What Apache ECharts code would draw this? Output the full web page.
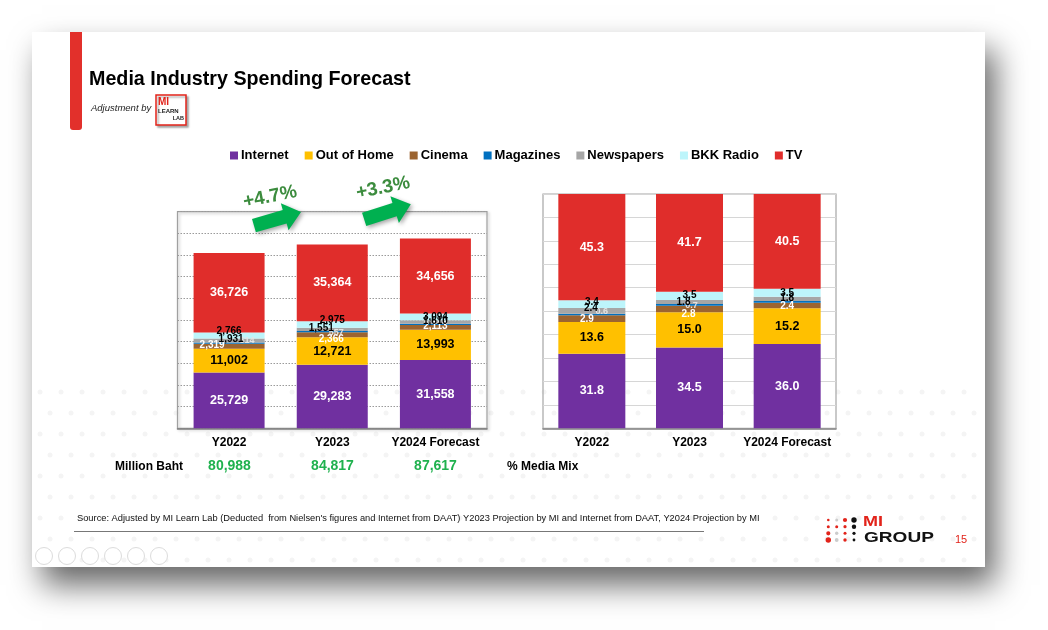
<!DOCTYPE html>
<html>
<head>
<meta charset="utf-8">
<script src="https://cdn.jsdelivr.net/npm/echarts@6/dist/echarts.min.js"></script>
<style>
html,body{margin:0;padding:0;background:#fff;}
#chart{width:1048px;height:630px;}
</style>
</head>
<body>
<div id="chart"></div>
<script>
// ---------- DATA ----------
const categories = ['Y2022', 'Y2023', 'Y2024 Forecast'];
const seriesNames = ['Internet', 'Out of Home', 'Cinema', 'Magazines', 'Newspapers', 'BKK Radio', 'TV'];

// Million Baht
const bahtInternet   = [25729, 29283, 31558];
const bahtOutOfHome  = [11002, 12721, 13993];
const bahtCinema     = [2319, 2366, 2113];
const bahtMagazines  = [514, 557, 593];
const bahtNewspapers = [1931, 1551, 1610];
const bahtRadio      = [2766, 2975, 3094];
const bahtTV         = [36726, 35364, 34656];
const totalBaht      = [80988, 84817, 87617];

// % Media Mix
const mixInternet   = [31.8, 34.5, 36.0];
const mixOutOfHome  = [13.6, 15.0, 15.2];
const mixCinema     = [2.9, 2.8, 2.4];
const mixMagazines  = [0.6, 0.7, 0.7];
const mixNewspapers = [2.4, 1.8, 1.8];
const mixRadio      = [3.4, 3.5, 3.5];
const mixTV         = [45.3, 41.7, 40.5];

const growthLabels = ['+4.7%', '+3.3%'];

const bahtValues = [bahtInternet, bahtOutOfHome, bahtCinema, bahtMagazines, bahtNewspapers, bahtRadio, bahtTV];
const mixValues  = [mixInternet, mixOutOfHome, mixCinema, mixMagazines, mixNewspapers, mixRadio, mixTV];

// ---------- STYLE ----------
const colors = ['#7030a0', '#ffc000', '#9c6430', '#0070c0', '#a6a6a6', '#bdf5fb', '#e02d2b'];
const labelColors = ['#ffffff', '#000000', '#ffffff', '#e4e4e4', '#000000', '#000000', '#ffffff'];
const labelSizes = [12.5, 12.5, 10, 9, 10, 10, 12.5];
// per-item label offsets (undefined -> centered, null -> hidden)
const offsetsLeft = [
  undefined, undefined,
  [[-17, -1], [-1, 4], [0, -1]],
  [[18, -3], [4, 1], null],
  [[2, -1], [-11, -1], [0, -1]],
  [[0, -4], [0, -4], [0, 0]],
  undefined
];
const offsetsRight = [
  undefined, undefined,
  [[-5, 1], [-1, 5], [0, 1]],
  [[10, -3], [2, 1], null],
  [[-1, -3], [-6, 0], [0, -1]],
  [[0, -2], [0, -1], [0, 0]],
  undefined
];
const FONT = "'Liberation Sans', Arial, sans-serif";

function fmtBaht(v) { return Number(v).toLocaleString('en-US'); }
function fmtMix(v) { return Number(v).toFixed(1); }

function buildSeries(values, offsets, axisIdx, stack, barWidth, fmt) {
  return values.map((arr, s) => ({
    name: seriesNames[s],
    type: 'bar',
    stack: stack,
    xAxisIndex: axisIdx,
    yAxisIndex: axisIdx,
    barWidth: barWidth,
    itemStyle: { color: colors[s] },
    label: {
      show: true,
      position: 'inside',
      color: labelColors[s],
      fontSize: labelSizes[s],
      fontWeight: 'bold',
      fontFamily: FONT,
      formatter: p => fmt(p.value)
    },
    data: arr.map((v, i) => {
      const off = offsets[s] ? offsets[s][i] : undefined;
      if (off === null) return { value: v, label: { show: false } };
      if (off) return { value: v, label: { offset: off } };
      return v;
    })
  }));
}

// ---------- GRAPHICS ----------
function arrow(cx, cy, rot) {
  return {
    type: 'polygon',
    x: cx, y: cy, rotation: rot,
    shape: { points: [[-24, -7], [8, -7], [8, -14], [25, 0], [8, 14], [8, 7], [-24, 7]] },
    style: { fill: '#00b050', shadowBlur: 4, shadowOffsetX: 2, shadowOffsetY: 2, shadowColor: 'rgba(0,0,0,0.35)' },
    z: 10
  };
}
function txt(x, y, text, font, fill, align, extra) {
  return Object.assign({
    type: 'text', x: x, y: y, z: 10,
    style: { text: text, font: font, fill: fill, align: align || 'left', verticalAlign: 'middle' }
  }, extra || {});
}

const graphics = [
  // slide
  { type: 'rect', z: -100, shape: { x: 32, y: 32, width: 953, height: 535 },
    style: { fill: '#ffffff', shadowBlur: 30, shadowOffsetX: 10, shadowOffsetY: 18, shadowColor: 'rgba(0,0,0,0.6)' } },
  // red bar
  { type: 'rect', z: 5, shape: { x: 70, y: 32, width: 12, height: 98, r: [0, 0, 3, 3] }, style: { fill: '#e2302b' } },
  txt(89, 80, 'Media Industry Spending Forecast', "bold 19.7px " + FONT, '#000'),
  txt(91, 108, 'Adjustment by', "italic 9.5px " + FONT, '#222'),
  // MI Learn Lab logo
  { type: 'rect', z: 8, shape: { x: 156, y: 95, width: 30, height: 30 },
    style: { fill: '#fff', stroke: '#e2231a', lineWidth: 1.5, shadowBlur: 2, shadowOffsetX: 2, shadowOffsetY: 2, shadowColor: 'rgba(0,0,0,0.3)' } },
  txt(158, 102, 'MI', "bold 10px " + FONT, '#e2231a'),
  txt(158, 111, 'LEARN', "bold 6px " + FONT, '#222'),
  txt(184, 118, 'LAB', "bold 5.5px " + FONT, '#222', 'right'),
  // growth arrows & text
  arrow(277, 219, 0.28),
  arrow(387, 212, 0.31),
  txt(270, 197, growthLabels[0], "bold 19px " + FONT, '#3c8c3e', 'center', { rotation: 0.2 }),
  txt(383, 188, growthLabels[1], "bold 19px " + FONT, '#3c8c3e', 'center', { rotation: 0.2 }),
  // bottom row
  txt(149, 467, 'Million Baht', "bold 12px " + FONT, '#000', 'center'),
  txt(507, 467, '% Media Mix', "bold 12px " + FONT, '#000'),
  // source
  txt(77, 518, "Source: Adjusted by MI Learn Lab (Deducted  from Nielsen's figures and Internet from DAAT) Y2023 Projection by MI and Internet from DAAT, Y2024 Projection by MI", "9.3px " + FONT, '#111'),
  { type: 'line', z: 8, shape: { x1: 74, y1: 531.5, x2: 704, y2: 531.5 }, style: { stroke: '#777', lineWidth: 1 } },
  // MI GROUP logo
  txt(863, 522, 'MI', "bold 15px " + FONT, '#e2231a', 'left', { scaleX: 1.2 }),
  txt(864, 538, 'GROUP', "bold 15px " + FONT, '#111', 'left', { scaleX: 1.27 }),
  txt(955, 540, '15', "11px " + FONT, '#e2231a')
];
// faint slide dot pattern (decoration)
for (let r = 0; r < 9; r++) {
  const y = 392 + r * 21;
  for (let c = 0; c < 46; c++) {
    const x = 40 + c * 21 + (r % 2 ? 10 : 0);
    if (x > 980 || y > 562) continue;
    graphics.push({ type: 'circle', z: -50, shape: { cx: x, cy: y, r: 2.5 }, style: { fill: '#f4f4f4' } });
  }
}
// MI group dot matrix
const dotCols = [828.3, 836.7, 845, 854];
const dotRows = [520, 526.7, 533.3, 540];
const dotCol = [
  ['#e2231a', '#cccccc', '#e2231a', '#111'],
  ['#e2231a', '#e2231a', '#e2231a', '#111'],
  ['#e2231a', '#cccccc', '#e2231a', '#111'],
  ['#e2231a', '#cccccc', '#e2231a', '#111']
];
const dotR = [[1.3, 1.5, 2.1, 2.7], [1.5, 1.5, 1.6, 2.2], [2.1, 1.7, 1.5, 1.6], [2.7, 1.9, 1.7, 1.4]];
dotRows.forEach((y, r) => dotCols.forEach((x, c) => {
  graphics.push({ type: 'circle', z: 8, shape: { cx: x, cy: y, r: dotR[r][c] }, style: { fill: dotCol[r][c] } });
}));
// presenter toolbar icons
[44, 67, 90, 113, 136, 159].forEach(x => {
  graphics.push({ type: 'circle', z: 8, shape: { cx: x, cy: 556, r: 8.5 }, style: { fill: '#fff', stroke: '#dcdcdc', lineWidth: 1 } });
});
// totals
totalBaht.forEach((v, i) => {
  graphics.push(txt([229.5, 332.5, 435.5][i], 466, fmtBaht(v), "bold 14px " + FONT, '#1fb14e', 'center'));
});

// ---------- OPTION ----------
const option = {
  animation: false,
  backgroundColor: '#ffffff',
  textStyle: { fontFamily: FONT },
  legend: {
    data: seriesNames,
    left: 225,
    top: 144,
    itemWidth: 8,
    itemHeight: 8,
    itemGap: 16,
    icon: 'rect',
    textStyle: { fontSize: 13, fontWeight: 'bold', color: '#000', fontFamily: FONT, padding: [0, 0, 0, -2] }
  },
  grid: [
    { left: 177.5, top: 211.7, width: 309.5, height: 216.6, show: true, backgroundColor: 'rgba(255,255,255,0)',
      borderColor: '#a0a0a0', borderWidth: 1.2, shadowBlur: 3, shadowOffsetX: 1.5, shadowOffsetY: 1.5, shadowColor: 'rgba(0,0,0,0.25)' },
    { left: 543, top: 194, width: 293, height: 234.3, show: true, backgroundColor: 'rgba(255,255,255,0)',
      borderColor: '#a6a6a6', borderWidth: 1.2 }
  ],
  xAxis: [
    { type: 'category', gridIndex: 0, data: categories,
      axisLine: { lineStyle: { color: '#7f7f7f', width: 1.5 } }, axisTick: { show: false },
      axisLabel: { interval: 0, color: '#000', fontWeight: 'bold', fontSize: 12, margin: 8, fontFamily: FONT } },
    { type: 'category', gridIndex: 1, data: categories,
      axisLine: { lineStyle: { color: '#7f7f7f', width: 1.5 } }, axisTick: { show: false },
      axisLabel: { interval: 0, color: '#000', fontWeight: 'bold', fontSize: 12, margin: 8, fontFamily: FONT } }
  ],
  yAxis: [
    { type: 'value', gridIndex: 0, min: 0, max: 100000, interval: 10000,
      axisLabel: { show: false }, axisLine: { show: false }, axisTick: { show: false },
      splitLine: { lineStyle: { color: '#9a9a9a', type: [1.5, 1.5], width: 1 } } },
    { type: 'value', gridIndex: 1, min: 0, max: 100, interval: 10,
      axisLabel: { show: false }, axisLine: { show: false }, axisTick: { show: false },
      splitLine: { lineStyle: { color: '#d6d6d6', width: 1 } } }
  ],
  series: [].concat(
    buildSeries(bahtValues, offsetsLeft, 0, 'baht', 71, fmtBaht),
    buildSeries(mixValues, offsetsRight, 1, 'mix', 67, fmtMix)
  ),
  graphic: { elements: graphics }
};

const chart = echarts.init(document.getElementById('chart'), null, { renderer: 'canvas' });
chart.setOption(option);
</script>
</body>
</html>
